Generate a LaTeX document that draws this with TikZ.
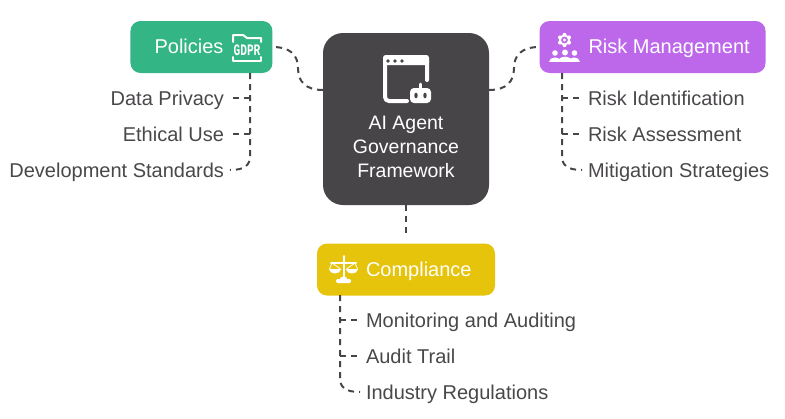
\documentclass[tikz,border=0pt]{standalone}
\usepackage{fontspec}
\setmainfont{Liberation Sans}
\newfontfamily\gdprfont[FakeStretch=0.7,UprightFont=* Bold]{Liberation Mono}
\usepackage{xcolor}
\usepackage{tikz}
\usetikzlibrary{positioning}
\definecolor{inkdark}{HTML}{484548}
\definecolor{inktext}{HTML}{4A474A}
\definecolor{polgreen}{HTML}{34B585}
\definecolor{riskpurple}{HTML}{BD68EB}
\definecolor{compyellow}{HTML}{E6C40C}
\tikzset{
  topic/.style   ={rounded corners=7.5pt, minimum height=39pt, inner sep=0pt},
  topiclbl/.style={text=white, inner sep=0pt, font=\fontsize{15}{18}\selectfont, text height=11.5pt, text depth=1.5pt},
  hub/.style     ={rounded corners=15pt, fill=inkdark, minimum width=124.5pt, minimum height=129pt, inner sep=0pt},
  hublbl/.style  ={text=white, align=center, inner sep=0pt, font=\fontsize{14.6}{18}\selectfont},
  lbl/.style     ={text=inktext, inner sep=0pt, outer sep=4.5pt, font=\fontsize{15}{18}\selectfont, text height=12.2pt, text depth=1pt},
  conn/.style    ={draw=inkdark, line width=1.5pt, dash pattern=on 4.5pt off 3.75pt},
  ico/.style     ={draw=white, line width=1.5pt, line cap=round, line join=round},
}
\begin{document}
\begin{tikzpicture}[x=.75pt,y=-.75pt]
  \useasboundingbox (0,0) rectangle (785,418);

  % ---- centre ----
  \node[hub] (ctr) at (406,119) {};
  \node[hublbl] (ctrlbl) at (406,146.5) {AI Agent\\Governance\\Framework};

  % ---- three topics round the centre ----
  \node[topic, fill=polgreen, minimum width=106.5pt, anchor=north east] (pol) at ([shift={(-50,-12)}]ctr.north west) {};
  \node[topic, fill=riskpurple, minimum width=169.5pt, anchor=north west] (risk) at ([shift={(50,-12)}]ctr.north east) {};
  \node[topic, fill=compyellow, minimum width=133.5pt, below=28.5pt of ctr] (comp) {};
  \node[topiclbl, anchor=east] (poltxt) at ([xshift=-36.75pt]pol.east) {Policies};
  \node[topiclbl, anchor=west] (risktxt) at ([xshift=36.75pt]risk.west) {Risk Management};
  \node[topiclbl, anchor=west] (comptxt) at ([xshift=36.75pt]comp.west) {Compliance};

  % ---- leaves ----
  \node[lbl, anchor=east] (dp) at (230,98) {Data Privacy};
  \node[lbl, anchor=east] (eu) at (230,134) {Ethical Use};
  \node[lbl, anchor=east] (ds) at (230,170) {Development Standards};
  \node[lbl, anchor=west] (ri) at (582,98) {Risk Identification};
  \node[lbl, anchor=west] (ra) at (582,134) {Risk Assessment};
  \node[lbl, anchor=west] (ms) at (582,170) {Mitigation Strategies};
  \node[lbl, anchor=west] (ma) at (360,320) {Monitoring and Auditing};
  \node[lbl, anchor=west] (at) at (360,356) {Audit Trail};
  \node[lbl, anchor=west] (ir) at (360,392) {Industry Regulations};

  % ---- connectors ----
  \coordinate (polt) at (250,73);
  \coordinate (riskt) at (562,73);
  \coordinate (compt) at (340,295);
  \coordinate (ctrl) at (323,90);
  \coordinate (ctrr) at (489,90);
  \draw[conn] (ctrl) .. controls (306,90) and (298,82) .. (298,68) .. controls (298,55) and (290,47) .. (pol.east);
  \draw[conn] (ctrr) .. controls (506,90) and (514,82) .. (514,68) .. controls (514,55) and (522,47) .. (risk.west);
  \draw[conn, shorten >=4pt] (ctr.south) -- (comp.north);
  \draw[conn] (polt) -- (250,156) .. controls (250,165) and (245,170) .. (ds.east);
  \draw[conn] (polt |- dp.east) -- (dp.east);
  \draw[conn] (polt |- eu.east) -- (eu.east);
  \draw[conn] (riskt) -- (562,156) .. controls (562,165) and (567,170) .. (ms.west);
  \draw[conn] (riskt |- ri.west) -- (ri.west);
  \draw[conn] (riskt |- ra.west) -- (ra.west);
  \draw[conn] (compt) -- (340,378) .. controls (340,387) and (345,392) .. (ir.west);
  \draw[conn] (compt |- ma.west) -- (ma.west);
  \draw[conn] (compt |- at.west) -- (at.west);

  % ---- window icon ----
  \draw[ico, line width=3pt] (407,101) -- (389,101) arc[start angle=90, end angle=180, radius=4] -- (385,61) arc[start angle=180, end angle=270, radius=4] -- (423,57) arc[start angle=270, end angle=360, radius=4] -- (427,80);
  \fill[white, rounded corners=2pt] (383,55) rectangle (429,65);
  \fill[inkdark] (388,61) circle (1.8) (395,61) circle (1.8) (402,61) circle (1.8);
  \fill[white, rounded corners=3pt] (410,88) rectangle (431,103);
  \draw[ico, line width=2pt] (420.5,89) -- (420.5,84);
  \fill[inkdark] (416,95.5) ellipse (1.7 and 2.8) (425,95.5) ellipse (1.7 and 2.8);

  % ---- gdpr icon ----
  \draw[ico] (233,42) -- (233,35) -- (243,35) -- (247,38) -- (261,38) -- (261,42);
  \draw[ico] (233,57) -- (233,61) -- (261,61) -- (261,57);
  \node[text=white, inner sep=0pt, font=\gdprfont\fontsize{12}{12}\selectfont] (gdpr) at (247,50.5) {GDPR};

  % ---- risk icon ----
  \fill[white] (564.5,40) circle (5.5) (564.5,34.8) circle (2) (569,37.4) circle (2) (569,42.6) circle (2) (564.5,45.2) circle (2) (560,42.6) circle (2) (560,37.4) circle (2);
  \fill[riskpurple] (564.5,40) circle (3.4);
  \fill[white] (564.5,40) circle (1.6);
  \fill[white] (555,53) circle (2.8) (565,52.5) circle (3) (574.5,53) circle (2.8);
  \fill[white] (549,61.5) .. controls (549,55.5) and (561,55.5) .. (561,61.5) -- cycle;
  \fill[white] (568,61.5) .. controls (568,55.5) and (580,55.5) .. (580,61.5) -- cycle;
  \fill[white] (558,61.5) .. controls (558,55) and (572,55) .. (572,61.5) -- cycle;

  % ---- scales icon ----
  \draw[ico] (343.5,256) -- (343.5,278);
  \draw[ico] (331,263) -- (356,263);
  \fill[white] (341,277) -- (346,277) -- (347,279) -- (340,279) -- cycle;
  \fill[white, rounded corners=1pt] (336,279) rectangle (351,283);
  \draw[ico, line width=.6pt] (332,263) -- (329.5,269) (332,263) -- (340.5,269) (355,263) -- (346.5,269) (355,263) -- (357.5,269);
  \fill[white] (329,268.5) -- (341,268.5) .. controls (341,274.5) and (329,274.5) .. (329,268.5) -- cycle;
  \fill[white] (346,268.5) -- (358,268.5) .. controls (358,274.5) and (346,274.5) .. (346,268.5) -- cycle;
\end{tikzpicture}
\end{document}
